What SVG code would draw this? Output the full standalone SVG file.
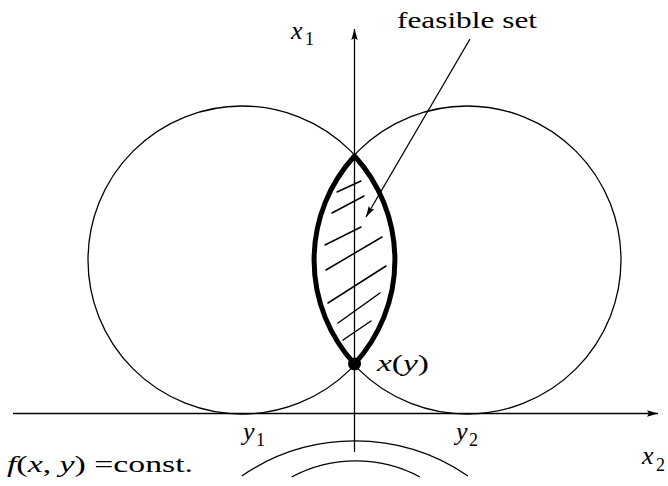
<svg xmlns="http://www.w3.org/2000/svg" width="668" height="486" viewBox="0 0 668 486">
<style>
  .thin{fill:none;stroke:#000;stroke-width:1.3}
  .lens{fill:none;stroke:#000;stroke-width:5;stroke-linejoin:round}
  .hatch{fill:none;stroke:#000;stroke-width:1.5;stroke-linecap:round}
  text{font-family:"Liberation Serif","Times New Roman",serif;fill:#000}
  .m{font-style:italic}
</style>
<defs>
  <marker id="ah" markerUnits="userSpaceOnUse" markerWidth="12" markerHeight="8" refX="11" refY="4" orient="auto">
    <path d="M0,0.8 L11,4 L0,7.2 L2,4 Z" fill="#000"/>
  </marker>
</defs>
<rect width="668" height="486" fill="#fff"/>

<g id="axes">
  <line class="thin" x1="13" y1="413.5" x2="658" y2="413.5" marker-end="url(#ah)"/>
  <line class="thin" x1="354.5" y1="452" x2="354.5" y2="29" marker-end="url(#ah)"/>
</g>

<g id="circle-left">
  <circle class="thin" cx="242" cy="260" r="154"/>
</g>
<g id="circle-right">
  <circle class="thin" cx="467" cy="260" r="154"/>
</g>

<g id="feasible-set">
  <path class="lens" d="M354.5,156 A154,154 0 0,1 354.5,364 A154,154 0 0,1 354.5,156 Z"/>
  <g class="hatch">
    <line x1="337" y1="192" x2="361" y2="181"/>
    <line x1="332" y1="213" x2="364" y2="196"/>
    <line x1="325" y1="245" x2="361" y2="227"/>
    <line x1="326" y1="270" x2="382" y2="237"/>
    <line x1="328" y1="303" x2="386" y2="266"/>
    <line x1="338" y1="323" x2="380" y2="293"/>
    <line x1="343" y1="340" x2="371" y2="321"/>
  </g>
</g>

<g id="point-xy">
  <circle cx="354.5" cy="364" r="6.5" fill="#000"/>
  <text x="377" y="371" font-size="24" textLength="52" lengthAdjust="spacingAndGlyphs"><tspan class="m">x</tspan>(<tspan class="m">y</tspan>)</text>
</g>

<g id="level-curves">
  <path class="thin" d="M241.7,476 A200,200 0 0,1 468,476"/>
  <path class="thin" d="M291.7,477 A136,136 0 0,1 420,477"/>
</g>

<g id="connectors">
  <line class="thin" x1="470" y1="39" x2="366" y2="217" marker-end="url(#ah)"/>
</g>

<g id="labels">
  <text x="397" y="28" font-size="23" textLength="140" lengthAdjust="spacingAndGlyphs">feasible set</text>
  <text x="291" y="39" font-size="26" class="m">x</text>
  <text x="305" y="45" font-size="18">1</text>
  <text x="243" y="440" font-size="26" class="m">y</text>
  <text x="256" y="446" font-size="18">1</text>
  <text x="456" y="440" font-size="26" class="m">y</text>
  <text x="469" y="446" font-size="18">2</text>
  <text x="642" y="464" font-size="26" class="m">x</text>
  <text x="656" y="471" font-size="18">2</text>
  <text x="7" y="472" font-size="24" textLength="186" lengthAdjust="spacingAndGlyphs"><tspan class="m">f</tspan>(<tspan class="m">x</tspan>, <tspan class="m">y</tspan>) =const.</text>
</g>
</svg>
